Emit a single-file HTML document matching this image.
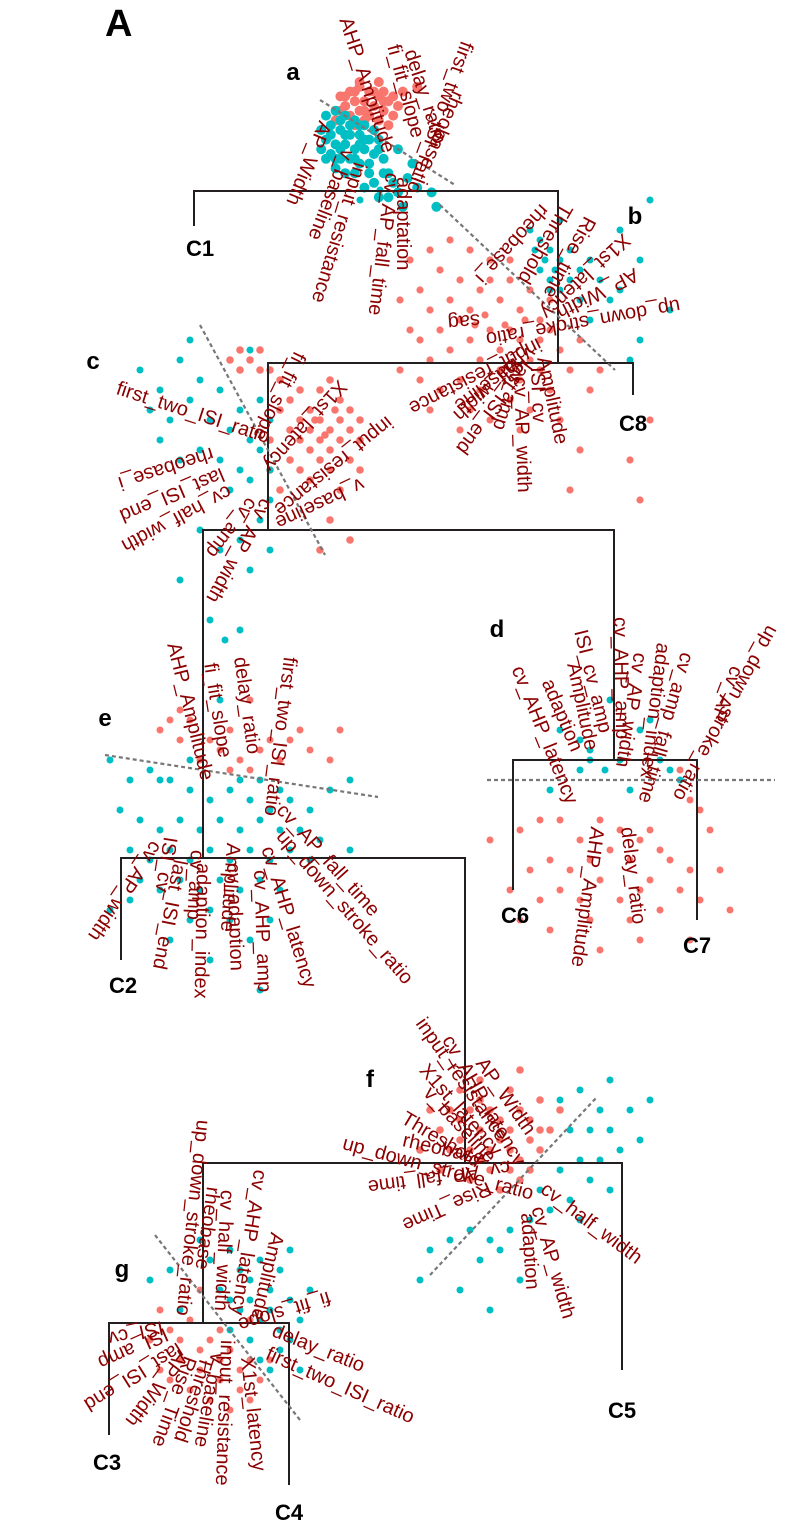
<!DOCTYPE html>
<html><head><meta charset="utf-8">
<style>
html,body{margin:0;padding:0;background:#fff;}
svg{display:block;}
.lab{font-family:"Liberation Sans",sans-serif;font-size:20px;fill:#8b0000;}
.pl{font-family:"Liberation Sans",sans-serif;font-weight:bold;fill:#000;}
</style></head>
<body>
<svg id="fig" width="796" height="1534" viewBox="0 0 796 1534" xmlns="http://www.w3.org/2000/svg">
<g id="dots"></g>
<g id="dend" stroke="#231f20" stroke-width="2" fill="none"></g>
<g id="dash" stroke="#777" stroke-width="2.2" stroke-dasharray="4,3"></g>
<g id="labs"></g>
<g id="plabs"></g>
</svg>
<script>
// cluster centers and PCA scatter (PC units, 1 unit = 5px)
const centers = {a:[350,130],b:[520,320],c:[280,430],d:[610,780],e:[230,790],f:[510,1140],g:[230,1330]};
const unitA = 4.8, unit = 5;
const redA = [[-2,-7],[0,-8],[2,-9],[4,-8],[6,-7],[8,-6],[-1,-5],[1,-6],[3,-6],[5,-5],[7,-4],[9,-3],[0,-3],[2,-4],[4,-3],[6,-2],[8,-1],[-2,-4],[3,-2],[1,-1],[5,-8],[7,-8],[9,-7],[10,-5],[11,-8],[14,-9],[6,-10],[-3,-2],[2,-10],[5,0],[1,-8],[3,-4],[7,-6],[-1,-7]];
const tealA = [[-5,-3],[-3,-4],[-1,-3],[1,-2],[3,-1],[5,0],[-6,0],[-4,-1],[-2,0],[0,1],[2,1],[4,2],[6,2],[-5,2],[-3,3],[-1,3],[1,4],[3,4],[5,5],[-4,5],[-2,6],[0,6],[2,7],[4,7],[-3,8],[-1,9],[1,9],[-6,4],[6,4],[-2,-2],[0,-1],[2,-1],[-4,1],[-1,1],[3,2],[7,6],[8,9],[9,11],[10,13],[12,10],[5,11],[6,14],[3,12],[14,12],[8,14],[11,16],[18,16],[17,13],[13,7],[10,4],[7,9],[-3,6],[1,6],[-5,6],[4,9],[-2,4],[2,3]];
const redB = [[-22,-12],[-20,-6],[-18,-2],[-16,-10],[-14,-4],[-12,-8],[-10,-2],[-8,-6],[-6,-12],[-4,-4],[-2,-8],[0,-2],[2,-6],[4,0],[6,-4],[-20,4],[-18,8],[-16,2],[-14,6],[-12,0],[-10,4],[-8,8],[-6,2],[-4,6],[-2,2],[0,4],[2,8],[4,4],[6,2],[-16,14],[-12,12],[-8,14],[-4,10],[0,12],[4,10],[-22,2],[-24,-4],[-18,18],[-10,18],[-2,16],[2,18],[6,14],[8,6],[10,10],[12,4],[-6,-8],[-2,-12],[-10,-14],[-14,-16],[-18,-14],[-24,10],[14,14],[8,20],[12,26],[22,28],[26,20],[24,36],[10,34],[-20,12],[-6,20],[-12,22],[0,22],[16,10],[-7,-1],[-3,1],[1,0],[-9,1]];
const tealB = [[2,-18],[4,-16],[6,-14],[5,-12],[7,-10],[4,-10],[6,-8],[8,-6],[3,-14],[8,-12],[10,-14],[12,-10],[10,-8],[6,-6],[14,-12],[16,-8],[12,-4],[14,0],[18,-4],[20,-6],[24,-12],[30,-2],[24,4],[22,8],[-28,-26],[-32,-24],[8,-20],[20,-18],[26,-24]];
const redC = [[6,-4],[8,-2],[10,0],[12,-2],[6,0],[8,2],[10,4],[4,2],[12,2],[14,0],[6,4],[8,6],[2,-6],[4,-8],[8,-8],[12,-6],[14,-4],[10,-10],[0,-4],[-4,-12],[-6,-14],[-8,-16],[-10,-14],[-4,-16],[-2,-12],[0,-10],[-8,-12],[2,6],[4,8],[10,8],[14,6],[16,2],[16,8],[6,10],[12,12],[10,18],[14,22],[8,24],[0,12],[-2,8],[-2,2],[16,-2],[4,-2],[2,0],[7,-2],[9,1],[11,-4]];
const tealC = [[-28,-12],[-24,-8],[-20,-14],[-22,-2],[-18,-6],[-16,-10],[-14,-2],[-12,-8],[-10,0],[-8,-4],[-6,2],[-4,-6],[-16,4],[-12,6],[-8,8],[-4,4],[-2,8],[-20,6],[-26,-4],[-24,2],[-6,10],[-10,12],[-2,14],[-4,18],[-8,22],[-2,24],[-12,24],[-6,28],[-14,38],[-8,40],[-18,-18],[-6,-16],[-2,-2],[-20,30],[-16,20]];
const redD = [[-18,10],[-14,8],[-10,8],[-6,12],[-2,8],[2,10],[6,12],[8,10],[10,14],[-16,18],[-12,16],[-8,18],[-4,16],[0,14],[4,16],[8,20],[12,16],[16,18],[-20,22],[-14,24],[-10,22],[-6,24],[-2,20],[2,24],[6,22],[14,22],[18,24],[-18,28],[-12,30],[-4,28],[4,28],[10,26],[16,32],[-2,34],[6,32],[14,-2],[16,4],[18,6],[20,10],[22,18],[24,26],[-24,12]];
const tealD = [[-10,-10],[-6,-8],[-4,-6],[-6,-2],[-4,-4],[0,-16],[6,-10],[8,-12],[10,-4],[12,-2],[2,-4],[-1,-2],[4,2],[14,0],[-12,2]];
const redE = [[-14,-12],[-12,-14],[-10,-10],[-8,-14],[-4,-10],[-2,-8],[0,-12],[2,-6],[4,-4],[6,-8],[8,-10],[10,-6],[12,-10],[16,-8],[20,-6],[-6,-6],[0,-4],[-10,-16],[4,-18],[22,-12],[14,-12]];
const tealE = [[-24,-6],[-20,-2],[-16,-4],[-12,-2],[-8,0],[-4,2],[0,0],[4,2],[8,4],[12,2],[16,4],[20,0],[-22,4],[-18,6],[-14,8],[-10,6],[-6,8],[-2,6],[2,8],[6,6],[10,8],[14,8],[18,10],[-20,12],[-16,14],[-12,12],[-8,14],[-4,12],[0,14],[4,12],[8,14],[12,12],[16,14],[24,12],[-18,18],[-14,20],[-10,18],[-6,20],[-2,18],[2,20],[6,18],[10,20],[-24,24],[-20,22],[-8,26],[-4,24],[0,26],[4,30],[8,26],[-12,30],[-4,34],[6,40],[2,-2],[6,-2],[10,0],[-8,-6],[-14,-2],[24,-2],[-2,-18],[-1,-30]];
const redF = [[-12,-6],[-10,-4],[-8,-6],[-6,-2],[-4,-6],[-2,-4],[0,-2],[2,-6],[4,-4],[6,-2],[-10,0],[-8,2],[-6,4],[-4,2],[-2,0],[0,2],[2,4],[4,0],[6,2],[8,-2],[-14,-2],[-12,2],[-4,6],[0,6],[2,8],[4,6],[-8,8],[-16,-6],[-6,-8],[-10,-10],[0,-10],[6,-8],[10,-6],[-14,6],[-2,10],[-18,2],[2,-14],[-6,-12]];
const tealF = [[10,-8],[14,-10],[18,-6],[16,-2],[12,-2],[20,-2],[22,2],[26,0],[18,4],[14,4],[10,6],[16,8],[20,10],[12,12],[8,14],[4,16],[0,18],[-4,20],[-8,18],[-12,20],[-16,22],[-6,24],[-2,22],[2,28],[-10,30],[-18,28],[-4,34],[14,16],[24,-6],[20,-12],[28,-8],[6,10]];
const tealG = [[-6,-18],[-4,-14],[0,-16],[2,-12],[4,-10],[6,-14],[8,-8],[10,-12],[12,-6],[-2,-8],[0,-6],[2,-4],[4,-6],[6,-2],[8,-4],[10,0],[12,2],[14,-2],[-12,-12],[-16,-10],[-10,-4],[0,0],[4,2],[6,6],[8,8],[10,4],[14,8],[12,-16],[16,-8]];
const redG = [[-14,-4],[-12,0],[-10,2],[-8,-2],[-6,4],[-4,2],[-2,6],[0,4],[2,8],[4,6],[-10,6],[-6,8],[-2,10],[2,12],[-8,12],[-4,14],[0,16],[4,14],[-12,10],[6,10],[-16,2],[-14,8],[8,6],[-6,-8],[-2,0],[4,-2]];

// feature labels: [text, x, y, angle]
const labelsA = [["AHP_Amplitude",345,18,72],["fi_fit_slope",393,45,75],["delay_ratio",410,50,72],["first_two_ISI_ratio",467,42,110],["rheobase_i",458,92,113],["AP_Width",325,122,112],["v_baseline",348,150,111],["input_resistance",360,163,107],["cv_AP_fall_time",392,173,97],["adaptation",403,177,90]];
const labelsB = [["rheobase_i",545,207,132],["Threshold",567,205,120],["Rise_time",590,218,118],["X1st_latency",627,237,137],["AP_Width",637,273,153],["up_down_stroke_ratio",680,305,170],["sag",480,320,175],["input_resistance",540,343,153],["v_baseline",533,350,143],["half_width",523,357,138],["last_ISI_end",527,363,127],["cv_amp",520,363,108],["cv_AP_width",520,377,88],["ISI_cv",537,367,88],["Amplitude",543,357,78]];
const labelsC = [["first_two_ISI_ratio",117,388,18],["fi_fit_slope",300,353,116],["X1st_latency",343,383,132],["input_resistance",390,420,141],["v_baseline",363,483,155],["rheobase_i",213,453,162],["last_ISI_end",223,473,157],["cv_half_width",230,490,152],["cv_amp",253,500,128],["cv_AP_width",267,500,119]];
const labelsD = [["cv_AHP_latency",517,667,68],["adaption",547,680,67],["Amplitude",573,663,78],["ISI_cv_amp",580,630,76],["cv_AHP_amp",620,617,89],["cv_AP_width",640,653,99],["adaption_index",663,643,97],["cv_amp_fall_time",687,653,106],["up_down_stroke_ratio",773,627,119],["cv_AP",737,667,111],["AHP_Amplitude",597,827,98],["delay_ratio",627,827,83]];
const labelsE = [["AHP_Amplitude",173,643,76],["fi_fit_slope",210,663,81],["delay_ratio",240,657,82],["first_two_ISI_ratio",290,657,97],["cv_AP_fall_time",280,807,48],["up_down_stroke_ratio",280,833,49],["cv_AHP_latency",267,847,73],["cv_AHP_amp",260,870,88],["cv_adaption",233,863,88],["Amplitude",233,843,94],["adaption_index",203,863,91],["cv_amp",197,850,93],["last_ISI_end",180,860,101],["ISI_cv",170,837,99],["cv_AP_width",157,843,124]];
const labelsF = [["AP_Width",480,1060,55],["cv_AHP_latency",447,1037,60],["input_resistance",420,1020,55],["X1st_latency",423,1067,49],["v_baseline",427,1090,47],["Threshold",403,1117,31],["rheobase",403,1140,13],["up_down_stroke_ratio",343,1143,15],["cv_AP_fall_time",510,1167,172],["Rise_Time",490,1187,156],["cv_half_width",543,1187,37],["cv_AP_width",537,1207,74],["adaption",527,1213,86]];
const labelsG = [["up_down_stroke_ratio",203,1120,96],["rheobase",213,1187,98],["cv_half_width",227,1190,93],["cv_AHP_latency",260,1170,99],["Amplitude",277,1233,103],["fi_fit_slope",330,1297,163],["delay_ratio",273,1330,22],["first_two_ISI_ratio",267,1353,24],["X1st_latency",247,1357,84],["input_resistance",227,1340,92],["v_baseline",217,1353,100],["Threshold",207,1357,108],["Rise_Time",190,1357,110],["AP_Width",183,1353,127],["last_ISI_end",180,1347,148],["ISI_amp",167,1333,156],["ISI_cv",163,1327,168]];

const NS="http://www.w3.org/2000/svg";
const dots=document.getElementById('dots');
function drawPts(arr,key,col,u,r){
  const c=centers[key];
  arr.forEach(p=>{
    const e=document.createElementNS(NS,'circle');
    e.setAttribute('cx',c[0]+p[0]*u);
    e.setAttribute('cy',c[1]+p[1]*u);
    e.setAttribute('r',r);
    e.setAttribute('fill',col);
    
    
    dots.appendChild(e);
  });
}
const RED="#f8766d",TEAL="#00bfc4";
drawPts(redA,'a',RED,unitA,5);drawPts(tealA,'a',TEAL,unitA,5);
drawPts(redB,'b',RED,unit,3.6);drawPts(tealB,'b',TEAL,unit,3.5);
drawPts(redC,'c',RED,unit,3.8);drawPts(tealC,'c',TEAL,unit,3.5);
drawPts(redD,'d',RED,unit,3.5);drawPts(tealD,'d',TEAL,unit,3.5);
drawPts(redE,'e',RED,unit,3.5);drawPts(tealE,'e',TEAL,unit,3.5);
drawPts(redF,'f',RED,unit,3.8);drawPts(tealF,'f',TEAL,unit,3.5);
drawPts(tealG,'g',TEAL,unit,3.5);drawPts(redG,'g',RED,unit,3.5);

// dendrogram segments
const dend=document.getElementById('dend');
const segs=[[194,226,194,191,558,191,558,363],[268,530,268,363,633,363,633,395],
 [203,858,203,530,614,530,614,760],[513,890,513,760,697,760,697,920],
 [121,960,121,858,465,858,465,1163],[203,1323,203,1163,622,1163,622,1370],
 [109,1435,109,1323,289,1323,289,1485]];
segs.forEach((s,i)=>{
  const p=document.createElementNS(NS,'polyline');
  p.setAttribute('points',s.join(' '));
  
  
  dend.appendChild(p);
});
const dash=document.getElementById('dash');
[[320,100,455,185],[440,205,615,370],[200,325,325,555],[487,780,775,780],[105,755,378,797],[430,1275,597,1097],[155,1235,300,1420]].forEach((l,i)=>{
  const e=document.createElementNS(NS,'line');
  e.setAttribute('x1',l[0]);e.setAttribute('y1',l[1]);e.setAttribute('x2',l[2]);e.setAttribute('y2',l[3]);
  
  
  dash.appendChild(e);
});
const labs=document.getElementById('labs');
[labelsA,labelsB,labelsC,labelsD,labelsE,labelsF,labelsG].forEach(set=>set.forEach(l=>{
  const t=document.createElementNS(NS,'text');
  t.setAttribute('class','lab');
  t.setAttribute('x',l[1]);t.setAttribute('y',l[2]);
  t.setAttribute('dominant-baseline','central');
  t.setAttribute('transform','rotate('+l[3]+' '+l[1]+' '+l[2]+')');
  t.textContent=l[0];
  
  
  labs.appendChild(t);
}));
const plabs=document.getElementById('plabs');
[["A",105,36,38],["a",293,80,24],["b",635,224,24],["c",93,369,24],["d",497,637,24],["e",105,726,24],["f",370,1087,24],["g",122,1277,24],
 ["C1",200,256,22],["C8",633,431,22],["C6",515,923,22],["C7",697,953,22],["C2",123,993,22],["C5",622,1418,22],["C3",107,1470,22],["C4",289,1520,22]].forEach(l=>{
  const t=document.createElementNS(NS,'text');
  t.setAttribute('class','pl');
  t.setAttribute('x',l[1]);t.setAttribute('y',l[2]);
  t.setAttribute('text-anchor',l[0]==="A"?"start":"middle");
  t.setAttribute('font-size',l[3]);
  t.textContent=l[0];
  
  
  plabs.appendChild(t);
});
</script>
</body></html>
